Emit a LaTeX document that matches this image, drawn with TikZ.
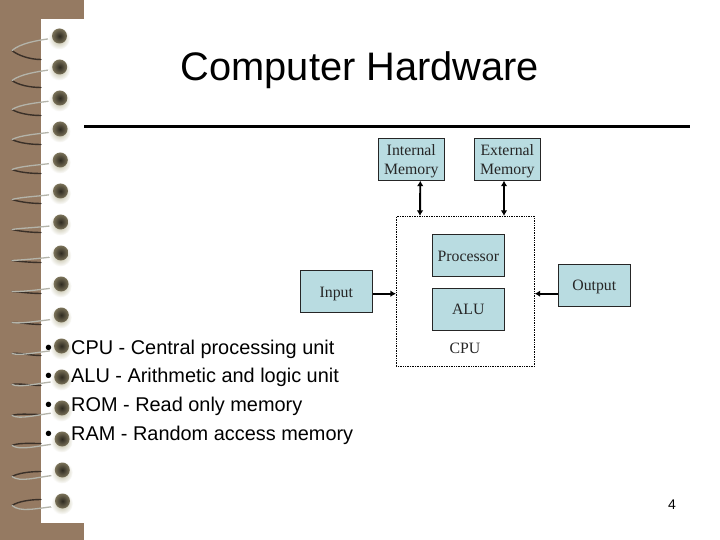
\documentclass[tikz,border=0pt]{standalone}
\usepackage{fontspec}
\setmainfont{Liberation Serif}
\newfontfamily\slidesans{Liberation Sans}
\usetikzlibrary{arrows.meta}
\definecolor{pagebrown}{HTML}{957A62}
\definecolor{boxblue}{HTML}{B9DCE1}
\definecolor{inktext}{HTML}{262626}
\definecolor{ballpale}{HTML}{B5B192}
\definecolor{ballmid}{HTML}{7A7259}
\definecolor{balldark}{HTML}{2E2A20}
\definecolor{wirepale}{HTML}{B4B4AA}
\definecolor{wireink}{HTML}{3A3028}
\newcommand{\lowerby}[2]{\raisebox{-#1}[10pt][3pt]{#2}}
\tikzset{
  hwbox/.style={draw=black!85,line width=0.7pt,fill=boxblue,minimum width=66pt,minimum height=42pt,inner sep=0pt,align=center,font=\fontsize{15.8}{19}\selectfont,text=inktext},
  widebox/.style={hwbox,minimum width=72pt},
  cpubox/.style={draw=black,densely dotted,line width=0.7pt,fill=white,minimum width=138pt,minimum height=150pt,inner sep=0pt},
  bus/.style={line width=1.9pt,{Latex[length=5.5pt,width=6.5pt]}-{Latex[length=5.5pt,width=6.5pt]}},
  feed/.style={line width=1.9pt,-{Latex[length=5.5pt,width=6.5pt]}},
  bullettext/.style={anchor=base west,inner sep=0pt,font=\slidesans\fontsize{19.9}{24}\selectfont,text=black},
  wirelight/.style={line width=1.3pt,line cap=round,draw=wirepale},
  wiredark/.style={line width=1.4pt,line cap=round,draw=wireink}
}
\begin{document}
\begin{tikzpicture}[x=1pt,y=-1pt]
\useasboundingbox (0,0) rectangle (720,540);
\fill[white] (0,0) rectangle (720,540);
\fill[pagebrown] (0,0) rectangle (41,540);
\fill[pagebrown] (41,0) rectangle (84,19);
\fill[pagebrown] (41,523) rectangle (84,540);
% spiral binding
\foreach \i in {0,...,15}{
  \pgfmathsetmacro{\t}{\i/15}
  \pgfmathsetmacro{\yb}{37.5+31*\i}
  \pgfmathsetmacro{\xb}{59+3*\t}
  \pgfmathsetmacro{\yl}{\yb+{13,12,10,9,8,7,6,6,6,6,6,6,6,5,5,3}[\i]}
  \pgfmathsetmacro{\ye}{\yb+{22,19,16,14,12,11,9,8,8,8,8,7,5,3,0,-3}[\i]}
  \pgfmathsetmacro{\yw}{\yb+1+3*\t}
  \pgfmathsetmacro{\cl}{-7+14*\t}
  \pgfmathsetmacro{\cd}{5-9*\t}
  \draw[wiredark] (41,\ye) .. controls (30,\ye) and (18,{\yl+\cd}) .. (12,\yl);
  \draw[wirelight] (12,\yl) .. controls (20,{\yl+\cl}) and (36,{\yw+2}) .. (\xb-8,\yw);
  \shade[inner color=ballpale,outer color=white] (\xb,\yb+1) circle (11);
  \shade[inner color=balldark,outer color=ballmid] (\xb+0.5,\yb-1.5) circle (7.5);
}
% title and rule
\node[anchor=base,inner sep=0pt,font=\slidesans\fontsize{39.8}{44}\selectfont,text=black] (title) at (360,81) {Computer Hardware};
\draw[line width=3pt,black] (84,126.5) -- (690,126.5);
% bullets
\node[bullettext] (b1) at (45,354) {•};
\node[bullettext] (b2) at (45,382) {•};
\node[bullettext] (b3) at (45,411) {•};
\node[bullettext] (b4) at (45,440) {•};
\node[bullettext] (t1) at (71,354) {CPU - Central processing unit};
\node[bullettext] (t2) at (71,382) {ALU - Arithmetic and logic unit};
\node[bullettext] (t3) at (71,411) {ROM - Read only memory};
\node[bullettext] (t4) at (71,440) {RAM - Random access memory};
\node[anchor=base,inner sep=0pt,font=\slidesans\fontsize{14}{16}\selectfont] (pagenum) at (672,509) {4};
% diagram
\node[cpubox] (cpu) at (465.3,291.3) {};
\node[hwbox] (internal) at (411.3,159.3) {\lowerby{2pt}{Internal}\\\lowerby{2pt}{Memory}};
\node[hwbox] (external) at (507.3,159.3) {\lowerby{2pt}{External}\\\lowerby{2pt}{Memory}};
\node[widebox] (processor) at (468.3,255.3) {\lowerby{3pt}{Processor}};
\node[widebox] (alu) at (468.3,309.3) {\lowerby{2pt}{ALU}};
\node[widebox] (input) at (336.3,291.3) {\lowerby{3pt}{Input}};
\node[widebox] (output) at (594.3,285.3) {\lowerby{2pt}{Output}};
\node[inner sep=0pt,font=\fontsize{15.8}{19}\selectfont,text=inktext] (cpulabel) at (465,348) {CPU};
\draw[bus] ([xshift=9pt]internal.south) -- ([xshift=-45.3pt]cpu.north);
\draw[bus] ([xshift=-3.3pt]external.south) -- ([xshift=38.7pt]cpu.north);
\draw[feed] ([yshift=-2.4pt]input.east) -- ([yshift=-2.4pt]cpu.west);
\draw[feed] ([yshift=-8.4pt]output.west) -- ([yshift=-2.4pt]cpu.east);
\end{tikzpicture}
\end{document}
